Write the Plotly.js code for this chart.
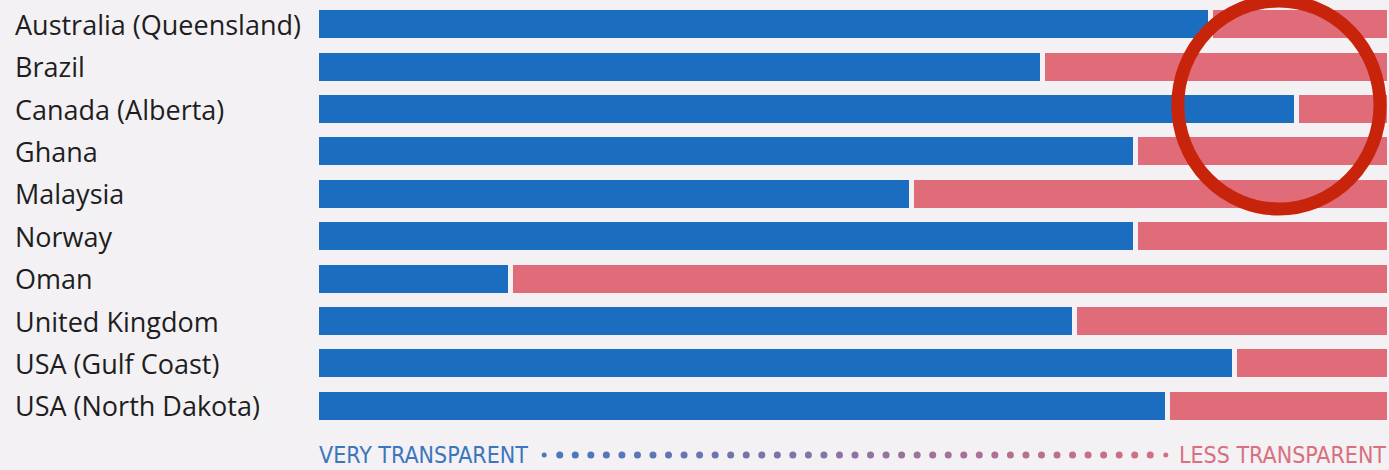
<!DOCTYPE html>
<html><head><meta charset="utf-8">
<script src="https://cdn.plot.ly/plotly-3.0.1.min.js"></script>
<style>html,body{margin:0;padding:0;background:#f3f1f3;}#chart{width:1389px;height:470px;}</style>
</head><body><div id="chart"></div>
<script>
const categories = ["Australia (Queensland)","Brazil","Canada (Alberta)","Ghana","Malaysia","Norway","Oman","United Kingdom","USA (Gulf Coast)","USA (North Dakota)"];
const veryTransparent = [83.4, 67.7, 91.4, 76.4, 55.5, 76.4, 18.1, 70.7, 85.6, 79.4];
const lessTransparent = veryTransparent.map(v => 100 - v);
const leftLabel = "VERY TRANSPARENT";
const rightLabel = "LESS TRANSPARENT";

const BG = "#f3f1f3";
const traces = [
  {type:"bar", orientation:"h", y:categories, x:veryTransparent, name:leftLabel,
   marker:{color:"#1b6ebf", line:{color:BG, width:5}}, hoverinfo:"x+y"},
  {type:"bar", orientation:"h", y:categories, x:lessTransparent, name:rightLabel,
   marker:{color:"#e06b79", line:{color:BG, width:5}}, hoverinfo:"x+y"}
];

const annotations = categories.map(c => ({
  xref:"paper", yref:"y", x:-0.2822, y:c, xanchor:"left", yanchor:"middle",
  text:c, showarrow:false, font:{family:"Open Sans", size:27, color:"#1e1e22"}
}));
annotations.push({xref:"paper", yref:"paper", x:0.0005, y:-0.065, xanchor:"left", yanchor:"middle",
  text:leftLabel, showarrow:false, font:{family:"DejaVu Sans Condensed", size:23, color:"#3b77bd"}});
annotations.push({xref:"paper", yref:"paper", x:0.9995, y:-0.065, xanchor:"right", yanchor:"middle",
  text:rightLabel, showarrow:false, font:{family:"DejaVu Sans Condensed", size:23, color:"#d9707f"}});

// decorative dotted gradient between the two labels
const shapes = [];
const nDots = 41, x0 = 545, x1 = 1166;
function mix(a,b,t){return Math.round(a+(b-a)*t);}
for (let i=0;i<nDots;i++){
  const px = x0 + (x1-x0)*i/(nDots-1);
  const t = i/(nDots-1);
  const col = `rgb(${mix(70,214,t)},${mix(120,110,t)},${mix(192,130,t)})`;
  const r = (i===0 || i===nDots-1) ? 2.5 : 3.5;
  const cx = (px-317)/1072, cy = (427-455)/424;
  shapes.push({type:"circle", xref:"paper", yref:"paper",
    x0:cx - r/1072, x1:cx + r/1072, y0:cy - r/424, y1:cy + r/424,
    fillcolor:col, line:{width:0}, layer:"above"});
}
// red highlight circle
shapes.push({type:"circle", xref:"paper", yref:"paper",
  x0:(1178-317)/1072, x1:(1380-317)/1072, y0:(427-209)/424, y1:(427-1)/424,
  line:{color:"#c8240c", width:13}, fillcolor:"rgba(0,0,0,0)", layer:"above"});

const layout = {
  width:1389, height:470, barmode:"stack", bargap:0.22, showlegend:false,
  paper_bgcolor:BG, plot_bgcolor:BG,
  margin:{l:316, r:0, t:3, b:43},
  xaxis:{range:[0,100], showgrid:false, zeroline:false, showticklabels:false, fixedrange:true},
  yaxis:{autorange:"reversed", showgrid:false, zeroline:false, showticklabels:false, fixedrange:true},
  annotations:annotations, shapes:shapes
};
Plotly.newPlot("chart", traces, layout, {displayModeBar:false, staticPlot:true});
</script></body></html>
